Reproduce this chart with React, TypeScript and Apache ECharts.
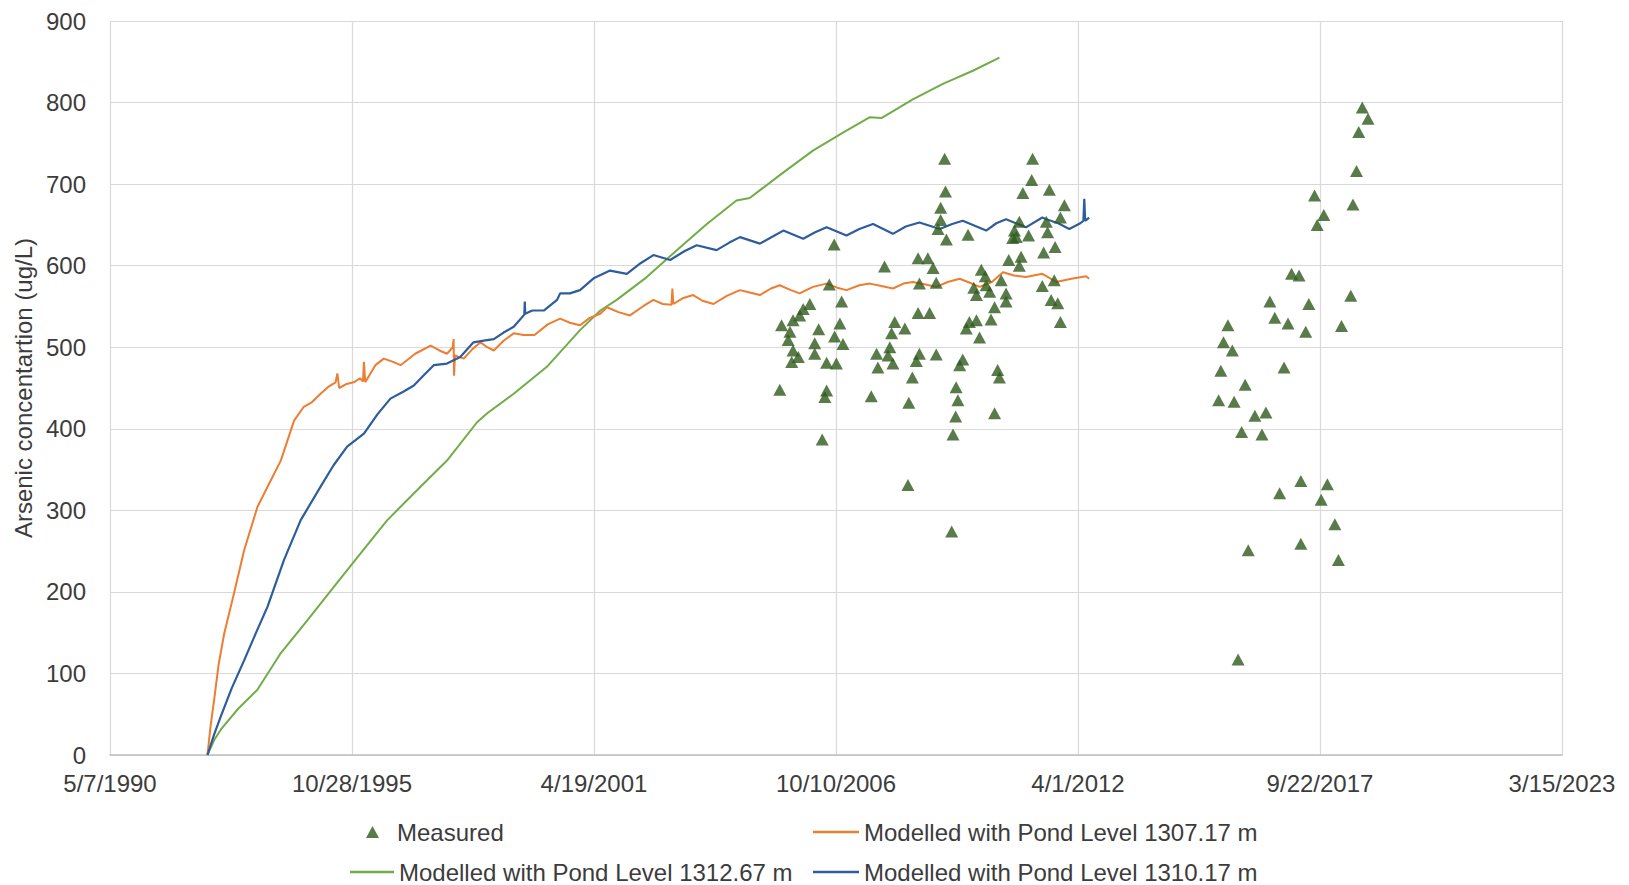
import React, { useEffect, useRef } from "react";
import * as echarts from "echarts";

// x values are decimal years; axis runs in days since 5/7/1990
const START_YEAR = 1990.345; // 5/7/1990
const X_MAX_DAYS = 12000; // 3/15/2023
const X_INTERVAL_DAYS = 2000;
const Y_MIN = 0;
const Y_MAX = 900;
const Y_INTERVAL = 100;

const seriesNames = [
  "Measured",
  "Modelled with Pond Level 1307.17 m",
  "Modelled with Pond Level 1312.67 m",
  "Modelled with Pond Level 1310.17 m",
];

const pond1307: [number, number][] = [
  [1992.55, 0], [1992.62, 35], [1992.7, 67], [1992.8, 110], [1992.93, 149], [1993.15, 198],
  [1993.38, 251], [1993.68, 304], [1993.91, 329], [1994.21, 361], [1994.51, 410], [1994.73, 427],
  [1994.9, 432], [1995.11, 443], [1995.3, 452], [1995.45, 457], [1995.49, 468], [1995.53, 450],
  [1995.7, 455], [1995.86, 457], [1996.0, 462], [1996.07, 458], [1996.09, 482], [1996.12, 457],
  [1996.35, 478], [1996.54, 486], [1996.75, 482], [1996.92, 478], [1997.25, 492], [1997.6, 502],
  [1997.8, 496], [1997.97, 492], [1998.1, 500], [1998.12, 510], [1998.13, 465], [1998.15, 490],
  [1998.35, 486], [1998.55, 498], [1998.73, 506], [1998.88, 500], [1999.03, 496], [1999.25, 508],
  [1999.48, 517], [1999.7, 515], [1999.95, 515], [2000.25, 528], [2000.53, 535], [2000.75, 530],
  [2000.98, 527], [2001.2, 536], [2001.44, 541], [2001.59, 549], [2001.85, 543], [2002.11, 539],
  [2002.4, 550], [2002.64, 558], [2002.85, 553], [2003.05, 552], [2003.07, 572], [2003.09, 553],
  [2003.3, 560], [2003.54, 564], [2003.75, 557], [2004.0, 553], [2004.3, 563], [2004.6, 570],
  [2004.82, 567], [2005.05, 564], [2005.3, 572], [2005.5, 576], [2005.75, 570], [2005.95, 566],
  [2006.25, 574], [2006.56, 578], [2006.8, 573], [2007.01, 570], [2007.3, 576], [2007.54, 578],
  [2007.8, 575], [2008.06, 572], [2008.3, 578], [2008.51, 580], [2008.8, 577], [2009.04, 574],
  [2009.3, 580], [2009.57, 584], [2009.8, 579], [2010.02, 574], [2010.3, 580], [2010.55, 592],
  [2010.8, 588], [2011.07, 586], [2011.44, 590], [2011.6, 585], [2011.75, 580], [2012.1, 584],
  [2012.43, 587], [2012.5, 584],
];

const pond1310: [number, number][] = [
  [1992.55, 0], [1992.7, 25], [1992.85, 47], [1993.1, 82], [1993.38, 116], [1993.65, 150],
  [1993.91, 182], [1994.28, 239], [1994.66, 288], [1995.11, 329], [1995.4, 355], [1995.71, 378],
  [1996.09, 394], [1996.4, 418], [1996.69, 437], [1997.0, 446], [1997.22, 453], [1997.45, 466],
  [1997.67, 478], [1997.97, 480], [1998.27, 488], [1998.57, 506], [1998.8, 508], [1999.03, 510],
  [1999.25, 518], [1999.48, 525], [1999.72, 540], [1999.73, 556], [1999.74, 541], [1999.9, 545],
  [2000.16, 545], [2000.46, 558], [2000.53, 566], [2000.75, 566], [2000.98, 570], [2001.3, 585],
  [2001.66, 594], [2002.04, 590], [2002.35, 603], [2002.64, 613], [2003.02, 607], [2003.35, 618],
  [2003.62, 625], [2004.07, 619], [2004.35, 628], [2004.6, 635], [2005.05, 627], [2005.35, 636],
  [2005.58, 643], [2006.03, 633], [2006.3, 641], [2006.56, 647], [2007.01, 637], [2007.3, 645],
  [2007.61, 651], [2008.06, 639], [2008.35, 648], [2008.66, 653], [2009.12, 645], [2009.4, 651],
  [2009.64, 655], [2010.17, 643], [2010.4, 652], [2010.62, 657], [2011.07, 647], [2011.44, 659],
  [2011.53, 657], [2011.8, 652], [2012.05, 645], [2012.3, 652], [2012.37, 655], [2012.39, 682],
  [2012.41, 655], [2012.5, 659],
];

const pond1312: [number, number][] = [
  [1992.55, 0], [1992.7, 18], [1992.85, 31], [1993.25, 57], [1993.68, 80], [1994.21, 125],
  [1994.81, 165], [1995.41, 206], [1996.01, 247], [1996.62, 288], [1997.37, 329], [1997.97, 361],
  [1998.65, 408], [1998.88, 419], [1999.48, 443], [2000.23, 476], [2000.98, 521], [2001.44, 545],
  [2001.81, 558], [2002.49, 586], [2003.17, 619], [2003.85, 651], [2004.52, 680], [2004.82, 683],
  [2005.5, 711], [2006.25, 741], [2006.93, 763], [2007.54, 782], [2007.8, 781], [2008.51, 804],
  [2009.19, 823], [2009.87, 839], [2010.47, 855],
];

const measured: [number, number][] = [
  [2009.23, 731], [2011.22, 731], [2011.2, 705], [2011.0, 689], [2011.6, 693], [2009.25, 691],
  [2011.94, 674], [2009.14, 671], [2011.85, 659], [2009.14, 656], [2009.08, 645], [2010.92, 654],
  [2011.53, 654], [2009.27, 632], [2009.76, 638], [2010.81, 643], [2010.85, 635], [2011.13, 637],
  [2010.77, 634], [2011.56, 641], [2006.73, 626], [2011.73, 623], [2011.47, 616], [2010.96, 611],
  [2010.68, 607], [2010.92, 600], [2008.63, 609], [2008.85, 609], [2007.87, 599], [2008.97, 597],
  [2010.06, 595], [2010.15, 587], [2006.62, 577], [2008.66, 578], [2009.04, 579], [2010.51, 582],
  [2011.71, 582], [2011.44, 575], [2009.89, 573], [2010.17, 576], [2009.95, 564], [2010.25, 568],
  [2010.62, 566], [2006.9, 556], [2006.18, 553], [2011.64, 558], [2011.79, 554], [2010.36, 549],
  [2010.62, 556], [2006.03, 547], [2008.63, 542], [2008.89, 542], [2005.95, 539], [2005.54, 527],
  [2005.8, 533], [2008.1, 531], [2006.86, 529], [2010.28, 534], [2011.85, 531], [2009.79, 531],
  [2009.95, 533], [2005.73, 519], [2006.38, 522], [2008.33, 523], [2008.03, 517], [2009.72, 523],
  [2006.74, 513], [2005.69, 509], [2006.93, 504], [2006.29, 505], [2010.02, 512], [2007.99, 500],
  [2005.8, 496], [2006.29, 492], [2005.92, 488], [2007.69, 492], [2007.95, 490], [2008.66, 492],
  [2009.04, 491], [2005.77, 482], [2006.56, 481], [2006.78, 480], [2008.06, 480], [2009.64, 485],
  [2008.59, 483], [2007.72, 475], [2009.57, 478], [2010.43, 472], [2010.47, 463], [2008.5, 463],
  [2005.5, 448], [2006.56, 447], [2006.52, 439], [2007.57, 440], [2009.49, 451], [2008.42, 432],
  [2009.53, 435], [2010.36, 419], [2009.48, 415], [2009.42, 393], [2006.46, 387], [2008.4, 331],
  [2009.39, 274],
  [2018.68, 794], [2018.81, 780], [2018.6, 764], [2018.55, 716], [2017.6, 686], [2018.47, 675],
  [2017.81, 662], [2017.66, 650], [2017.08, 590], [2017.25, 588], [2016.59, 556], [2017.47, 553],
  [2018.42, 563], [2016.7, 536], [2017.0, 529], [2017.4, 519], [2018.21, 526], [2015.64, 527],
  [2015.54, 506], [2015.74, 496], [2016.91, 475], [2015.48, 471], [2016.03, 454], [2015.43, 435],
  [2015.78, 433], [2016.25, 416], [2016.5, 420], [2015.95, 396], [2016.41, 393], [2017.29, 336],
  [2017.89, 332], [2016.81, 321], [2017.75, 313], [2018.06, 283], [2017.29, 259], [2016.1, 251],
  [2018.14, 239], [2015.87, 117],
];

const COLORS = {
  measured: "#2E5A1C",
  p1307: "#ED7D31",
  p1312: "#70AD47",
  p1310: "#2F5C9A",
  text: "#3C3C3C",
  grid: "#D9D9D9",
  axis: "#BFBFBF",
};

const FONT = "'Liberation Sans', Arial, sans-serif";

const toDays = (year: number) => (year - START_YEAR) * 365.25;
const conv = (arr: [number, number][]) => arr.map(([y, v]) => [toDays(y), v]);

const formatDate = (v: number) => {
  const d = new Date(Date.UTC(1990, 4, 7) + Math.round(v) * 86400000);
  return `${d.getUTCMonth() + 1}/${d.getUTCDate()}/${d.getUTCFullYear()}`;
};

export default function App() {
  const ref = useRef<HTMLDivElement>(null);
  useEffect(() => {
    if (!ref.current) return;
    const chart = echarts.init(ref.current, null, { renderer: "svg" });
    const legendText = { fontFamily: FONT, fontSize: 24, color: COLORS.text, lineHeight: 26 };
    chart.setOption({
      animation: false,
      backgroundColor: "#FFFFFF",
      grid: { left: 110, right: 67, top: 21, bottom: 130, containLabel: false },
      xAxis: {
        type: "value",
        min: 0,
        max: X_MAX_DAYS,
        interval: X_INTERVAL_DAYS,
        axisLine: { show: true, lineStyle: { color: COLORS.axis, width: 1.5 } },
        axisTick: { show: false },
        axisLabel: {
          formatter: formatDate,
          fontFamily: FONT,
          fontSize: 24,
          color: COLORS.text,
          margin: 16,
          showMinLabel: true,
          showMaxLabel: true,
        },
        splitLine: { show: true, lineStyle: { color: COLORS.grid, width: 1.2 } },
      },
      yAxis: {
        type: "value",
        min: Y_MIN,
        max: Y_MAX,
        interval: Y_INTERVAL,
        name: "Arsenic concentartion (ug/L)",
        nameLocation: "middle",
        nameGap: 66,
        nameTextStyle: { fontFamily: FONT, fontSize: 24, color: COLORS.text },
        axisLine: { show: false },
        axisTick: { show: false },
        axisLabel: { fontFamily: FONT, fontSize: 24, color: COLORS.text, margin: 24 },
        splitLine: { show: true, lineStyle: { color: COLORS.grid, width: 1.2 } },
      },
      legend: [
        {
          data: [{ name: seriesNames[0], icon: "triangle" }],
          left: 366, top: 819, padding: 0,
          itemWidth: 13, itemHeight: 12,
          textStyle: { ...legendText, padding: [0, 0, 0, 13] },
        },
        {
          data: [{ name: seriesNames[1], icon: "rect" }],
          left: 813, top: 819, padding: 0,
          itemWidth: 46, itemHeight: 2.5,
          textStyle: legendText,
        },
        {
          data: [{ name: seriesNames[2], icon: "rect" }],
          left: 350, top: 859, padding: 0,
          itemWidth: 44, itemHeight: 2.5,
          textStyle: legendText,
        },
        {
          data: [{ name: seriesNames[3], icon: "rect" }],
          left: 813, top: 859, padding: 0,
          itemWidth: 46, itemHeight: 2.5,
          textStyle: legendText,
        },
      ],
      series: [
        {
          name: seriesNames[2],
          type: "line",
          data: conv(pond1312),
          showSymbol: false,
          symbol: "none",
          color: COLORS.p1312,
          lineStyle: { color: COLORS.p1312, width: 2 },
          z: 2,
        },
        {
          name: seriesNames[1],
          type: "line",
          data: conv(pond1307),
          showSymbol: false,
          symbol: "none",
          color: COLORS.p1307,
          lineStyle: { color: COLORS.p1307, width: 2 },
          z: 3,
        },
        {
          name: seriesNames[3],
          type: "line",
          data: conv(pond1310),
          showSymbol: false,
          symbol: "none",
          color: COLORS.p1310,
          lineStyle: { color: COLORS.p1310, width: 2.2 },
          z: 4,
        },
        {
          name: seriesNames[0],
          type: "scatter",
          data: conv(measured),
          symbol: "triangle",
          symbolSize: [13, 12],
          color: COLORS.measured,
          itemStyle: { color: COLORS.measured },
          z: 5,
        },
      ],
    });
    return () => chart.dispose();
  }, []);
  return (
    <div
      ref={ref}
      style={{ position: "fixed", left: 0, top: 0, width: 1629, height: 885, background: "#fff" }}
    />
  );
}
